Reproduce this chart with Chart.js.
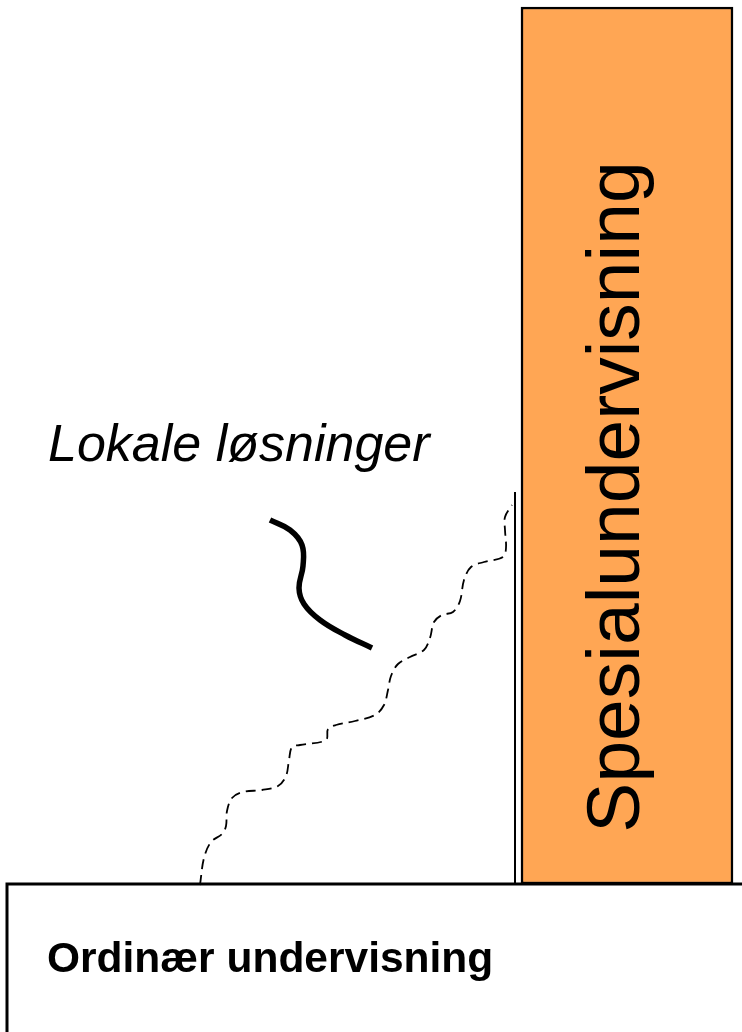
<!DOCTYPE html>
<html>
<head>
<meta charset="utf-8">
<script src="https://cdn.jsdelivr.net/npm/chart.js@4/dist/chart.umd.min.js"></script>
<style>
  html, body { margin: 0; padding: 0; background: #fff; overflow: hidden; }
</style>
</head>
<body>
<canvas id="diagram" width="742" height="1032"></canvas>
<script>
// Koordinater lest av bildet (x mot høyre, y nedover)
const boxOutline = [{x: 7, y: 1032}, {x: 7, y: 884}, {x: 742, y: 884}];
const specialBar = [{x: 627, y: [7, 884]}];
const wallLine = [{x: 515, y: 884}, {x: 515, y: 492}];
const stairPath = [
  {x: 200, y: 885}, {x: 204, y: 858}, {x: 211, y: 842}, {x: 222, y: 834},
  {x: 226, y: 826}, {x: 227, y: 811}, {x: 232, y: 798}, {x: 243, y: 792},
  {x: 262, y: 790}, {x: 278, y: 786}, {x: 286, y: 776}, {x: 289, y: 760},
  {x: 292, y: 747}, {x: 300, y: 745}, {x: 326, y: 740}, {x: 328, y: 729},
  {x: 336, y: 725}, {x: 355, y: 721}, {x: 375, y: 715}, {x: 384, y: 705},
  {x: 388, y: 690}, {x: 391, y: 676}, {x: 398, y: 664}, {x: 410, y: 657},
  {x: 424, y: 650}, {x: 430, y: 638}, {x: 434, y: 622}, {x: 442, y: 615},
  {x: 453, y: 612}, {x: 460, y: 601}, {x: 464, y: 580}, {x: 471, y: 567},
  {x: 484, y: 562}, {x: 503, y: 557}, {x: 506, y: 548}, {x: 505, y: 530},
  {x: 505, y: 517}, {x: 512, y: 505}
];
const localCurve = [
  {x: 270, y: 520}, {x: 290, y: 530}, {x: 302, y: 545}, {x: 303, y: 566},
  {x: 299, y: 588}, {x: 304, y: 604}, {x: 320, y: 620}, {x: 345, y: 635},
  {x: 372, y: 648}
];
const labels = ['Lokale løsninger', 'Ordinær undervisning', 'Spesialundervisning'];

const orange = '#ffa654';

// Tekstene tegnes på plass via skalaene
const textPlugin = {
  id: 'texts',
  afterDatasetsDraw(chart) {
    const c = chart.ctx;
    const sx = chart.scales.x, sy = chart.scales.y;
    c.save();
    c.fillStyle = '#000';
    c.textBaseline = 'alphabetic';
    c.textAlign = 'left';

    c.font = 'italic 52px "Liberation Sans", Arial, sans-serif';
    c.fillText(labels[0], sx.getPixelForValue(48), sy.getPixelForValue(461));

    c.font = 'bold 42.5px "Liberation Sans", Arial, sans-serif';
    c.fillText(labels[1], sx.getPixelForValue(47), sy.getPixelForValue(972));

    c.font = '75px "Liberation Sans", Arial, sans-serif';
    c.translate(sx.getPixelForValue(639), sy.getPixelForValue(497));
    c.rotate(-Math.PI / 2);
    c.textAlign = 'center';
    c.fillText(labels[2], 0, 0);
    c.restore();
  }
};

const ctx = document.getElementById('diagram').getContext('2d');
const chart = new Chart(ctx, {
  type: 'scatter',
  data: {
    datasets: [{
      data: localCurve,
      showLine: true,
      borderColor: '#000',
      borderWidth: 5.5,
      tension: 0.4,
      pointRadius: 0
    }, {
      data: stairPath,
      showLine: true,
      borderColor: '#000',
      borderWidth: 1.8,
      borderDash: [10, 6],
      tension: 0.35,
      pointRadius: 0
    }, {
      data: wallLine,
      showLine: true,
      borderColor: '#000',
      borderWidth: 2,
      pointRadius: 0
    }, {
      data: boxOutline,
      showLine: true,
      borderColor: '#000',
      borderWidth: 3,
      pointRadius: 0
    }, {
      type: 'bar',
      data: specialBar,
      backgroundColor: orange,
      borderColor: '#000',
      borderWidth: 2.5,
      borderSkipped: false,
      barThickness: 212
    }]
  },
  options: {
    responsive: false,
    animation: false,
    layout: { padding: 0 },
    plugins: {
      legend: { display: false },
      tooltip: { enabled: false }
    },
    scales: {
      x: { type: 'linear', min: 0, max: 742, offset: false, display: false },
      y: { type: 'linear', min: 0, max: 1032, reverse: true, display: false }
    }
  },
  plugins: [textPlugin]
});
</script>
</body>
</html>
